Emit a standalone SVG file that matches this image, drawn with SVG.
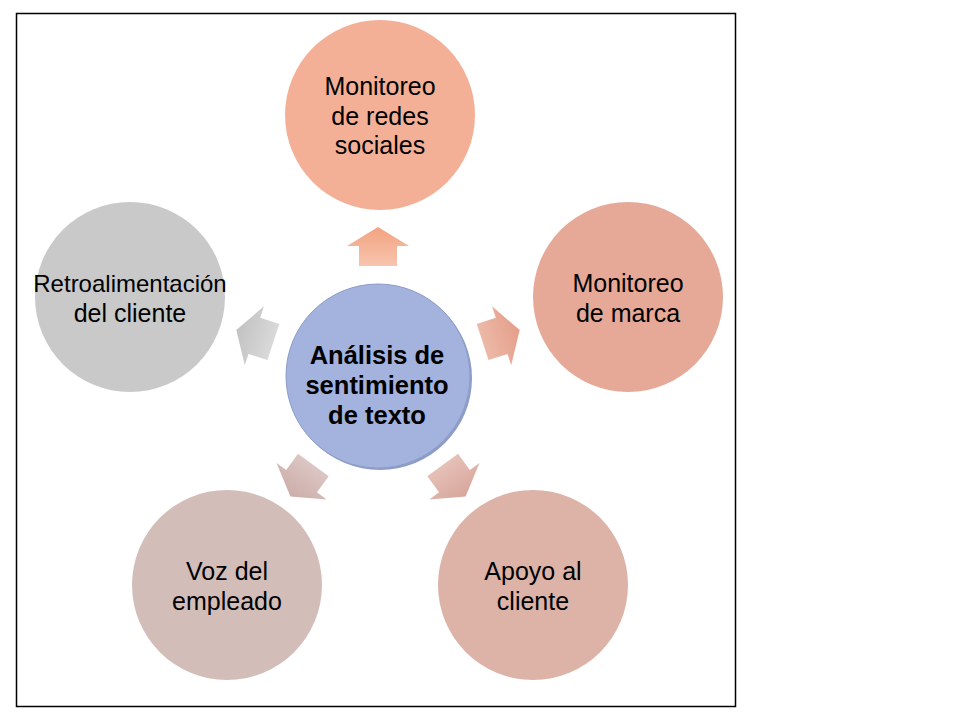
<svg xmlns="http://www.w3.org/2000/svg" width="960" height="720" viewBox="0 0 960 720">
<defs>
<style>
.t{font-family:"Liberation Sans",Arial,sans-serif;font-size:25px;fill:#000;text-anchor:middle}
.b{font-weight:bold;font-size:25.5px}
</style>
<linearGradient id="gTop" x1="0" y1="0" x2="1" y2="0"><stop offset="0" stop-color="#F7C4AE"/><stop offset="1" stop-color="#F2A381"/></linearGradient>
<linearGradient id="gR" x1="0" y1="0" x2="1" y2="0"><stop offset="0" stop-color="#EDB9A8"/><stop offset="1" stop-color="#E49F89"/></linearGradient>
<linearGradient id="gBR" x1="0" y1="0" x2="1" y2="0"><stop offset="0" stop-color="#E5C1B8"/><stop offset="1" stop-color="#D8A59B"/></linearGradient>
<linearGradient id="gBL" x1="0" y1="0" x2="1" y2="0"><stop offset="0" stop-color="#DCC6C3"/><stop offset="1" stop-color="#CBADA9"/></linearGradient>
<linearGradient id="gL" x1="0" y1="0" x2="1" y2="0"><stop offset="0" stop-color="#D9D9D9"/><stop offset="1" stop-color="#C2C2C2"/></linearGradient>
<polygon id="arr" points="-19,-19 1,-19 1,-31 20,0 1,31 1,19 -19,19"/>
</defs>
<rect x="16.5" y="13.5" width="719" height="693" fill="#fff" stroke="#000" stroke-width="1.5"/>
<g id="connectors">
<use href="#arr" fill="url(#gTop)" transform="translate(378,376) rotate(-90) translate(129,0)"/>
<use href="#arr" fill="url(#gR)" transform="translate(378,376) rotate(-18) translate(129,0)"/>
<use href="#arr" fill="url(#gBR)" transform="translate(378,376) rotate(54) translate(129,0)"/>
<use href="#arr" fill="url(#gBL)" transform="translate(378,376) rotate(126) translate(129,0)"/>
<use href="#arr" fill="url(#gL)" transform="translate(378,376) rotate(198) translate(129,0)"/>
</g>
<g id="center">
<circle cx="380" cy="378" r="92" fill="#8E9CC8"/>
<circle cx="378" cy="376" r="92" fill="#A3B3DD" stroke="#8E9CC8" stroke-width="1"/>
<text class="t b" x="377" y="364">Análisis de</text>
<text class="t b" x="377" y="394">sentimiento</text>
<text class="t b" x="377" y="424">de texto</text>
</g>
<g id="redes">
<circle cx="380" cy="115" r="95" fill="#F4B096"/>
<text class="t" x="380" y="95">Monitoreo</text>
<text class="t" x="380" y="124.5">de redes</text>
<text class="t" x="380" y="154">sociales</text>
</g>
<g id="marca">
<circle cx="628" cy="297" r="95" fill="#E6A997"/>
<text class="t" x="628" y="292">Monitoreo</text>
<text class="t" x="628" y="321.5">de marca</text>
</g>
<g id="apoyo">
<circle cx="533" cy="585" r="95" fill="#DDB3A8"/>
<text class="t" x="533" y="580">Apoyo al</text>
<text class="t" x="533" y="609.5">cliente</text>
</g>
<g id="voz">
<circle cx="227" cy="585" r="95" fill="#D3BDB9"/>
<text class="t" x="227" y="580">Voz del</text>
<text class="t" x="227" y="609.5">empleado</text>
</g>
<g id="retro">
<circle cx="130" cy="297" r="95" fill="#C9C9C9"/>
<text class="t" x="130" y="292" style="font-size:24px">Retroalimentación</text>
<text class="t" x="130" y="321.5">del cliente</text>
</g>
</svg>
